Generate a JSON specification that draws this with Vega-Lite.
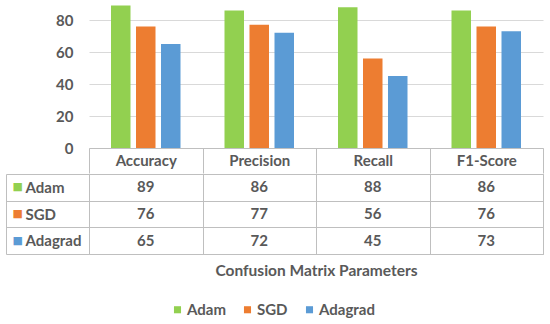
{
  "$schema": "https://vega.github.io/schema/vega-lite/v6.json",
  "padding": {"left": 5, "top": 0, "right": 5, "bottom": 5},
  "data": {"values": [
    {"param": "Accuracy", "optimizer": "Adam", "value": 89},
    {"param": "Accuracy", "optimizer": "SGD", "value": 76},
    {"param": "Accuracy", "optimizer": "Adagrad", "value": 65},
    {"param": "Precision", "optimizer": "Adam", "value": 86},
    {"param": "Precision", "optimizer": "SGD", "value": 77},
    {"param": "Precision", "optimizer": "Adagrad", "value": 72},
    {"param": "Recall", "optimizer": "Adam", "value": 88},
    {"param": "Recall", "optimizer": "SGD", "value": 56},
    {"param": "Recall", "optimizer": "Adagrad", "value": 45},
    {"param": "F1-Score", "optimizer": "Adam", "value": 86},
    {"param": "F1-Score", "optimizer": "SGD", "value": 76},
    {"param": "F1-Score", "optimizer": "Adagrad", "value": 73}
  ]},
  "spacing": -8,
  "resolve": {"legend": {"color": "independent"}, "scale": {"color": "independent"}},
  "vconcat": [
    {
      "width": 454,
      "height": 148,
      "mark": {"type": "bar"},
      "encoding": {
        "x": {
          "field": "param", "type": "nominal",
          "sort": ["Accuracy", "Precision", "Recall", "F1-Score"],
          "scale": {"paddingInner": 0, "paddingOuter": 0},
          "axis": {
            "title": null, "labelAngle": 0, "tickBand": "extent", "ticks": true,
            "tickSize": 25, "tickColor": "#BFBFBF", "domainColor": "#BFBFBF",
            "labelPadding": -13, "labelBaseline": "middle", "minExtent": 0
          }
        },
        "xOffset": {
          "field": "optimizer", "type": "nominal",
          "sort": ["Adam", "SGD", "Adagrad"],
          "scale": {"paddingInner": 0.22, "paddingOuter": 0.88}
        },
        "y": {
          "field": "value", "type": "quantitative",
          "scale": {"domain": [0, 92.5], "nice": false},
          "axis": {
            "title": null, "values": [0, 20, 40, 60, 80], "domain": false,
            "ticks": false, "labelPadding": 16, "gridColor": "#D9D9D9"
          }
        },
        "color": {
          "field": "optimizer", "type": "nominal",
          "sort": ["Adam", "SGD", "Adagrad"],
          "scale": {"domain": ["Adam", "SGD", "Adagrad"], "range": ["#92D050", "#ED7D31", "#5B9BD5"]},
          "legend": null
        }
      }
    },
    {
      "width": 454,
      "height": 80,
      "view": {"stroke": "#BFBFBF"},
      "layer": [
        {
          "mark": {"type": "text", "fontWeight": "bold", "fontSize": 15, "color": "#595959"},
          "encoding": {
            "x": {
              "field": "param", "type": "nominal",
              "sort": ["Accuracy", "Precision", "Recall", "F1-Score"],
              "scale": {"paddingInner": 0, "paddingOuter": 0},
              "axis": {
                "title": "Confusion Matrix Parameters", "labels": false, "ticks": false,
                "domain": false, "grid": true, "tickBand": "extent", "gridColor": "#BFBFBF",
                "titlePadding": 9, "titleFontSize": 15.5
              }
            },
            "y": {
              "field": "optimizer", "type": "nominal",
              "sort": ["Adam", "SGD", "Adagrad"],
              "scale": {"paddingInner": 0, "paddingOuter": 0},
              "axis": {
                "title": null, "orient": "left", "tickBand": "extent", "ticks": true, "tickSize": 83,
                "tickColor": "#BFBFBF", "labelAlign": "left", "labelPadding": -19,
                "grid": true, "gridColor": "#BFBFBF", "domain": false
              }
            },
            "text": {"field": "value", "type": "quantitative"}
          }
        },
        {
          "mark": {"type": "text", "text": ""},
          "encoding": {
            "y": {
              "field": "optimizer", "type": "nominal",
              "sort": ["Adam", "SGD", "Adagrad"],
              "axis": {
                "title": null, "orient": "left", "ticks": false, "tickSize": 0,
                "labelPadding": 77, "labelAlign": "left", "domain": false, "grid": false,
                "labelExpr": "'■'", "labelFont": "DejaVu Sans", "labelFontSize": 11,
                "labelFontWeight": "normal",
                "labelColor": {
                  "condition": [
                    {"test": "datum.value === 'Adam'", "value": "#92D050"},
                    {"test": "datum.value === 'SGD'", "value": "#ED7D31"}
                  ],
                  "value": "#5B9BD5"
                }
              }
            },
            "color": {
              "field": "optimizer", "type": "nominal",
              "sort": ["Adam", "SGD", "Adagrad"],
              "scale": {"domain": ["Adam", "SGD", "Adagrad"], "range": ["#92D050", "#ED7D31", "#5B9BD5"]},
              "legend": {
                "title": null, "orient": "none", "direction": "horizontal",
                "legendX": 81, "legendY": 128,
                "symbolType": "square", "symbolSize": 50, "symbolStrokeWidth": 0,
                "symbolOpacity": 1,
                "labelFontSize": 15, "labelFontWeight": "bold", "labelColor": "#595959",
                "labelOffset": 2, "columnPadding": 14
              }
            }
          }
        },
        {
          "mark": {"type": "text", "text": ""},
          "encoding": {
            "y": {
              "field": "optimizer", "type": "nominal",
              "sort": ["Adam", "SGD", "Adagrad"],
              "axis": {
                "title": null, "orient": "left", "offset": 83, "labels": false,
                "ticks": false, "domain": true, "domainColor": "#BFBFBF", "grid": false
              }
            }
          }
        }
      ],
      "resolve": {"axis": {"y": "independent"}}
    }
  ],
  "config": {
    "font": "Lato",
    "view": {"stroke": null},
    "axis": {
      "labelFont": "Lato", "labelFontSize": 15, "labelFontWeight": "bold", "labelColor": "#595959",
      "titleFont": "Lato", "titleFontSize": 15, "titleFontWeight": "bold", "titleColor": "#595959"
    },
    "legend": {
      "labelFont": "Lato"
    }
  }
}
